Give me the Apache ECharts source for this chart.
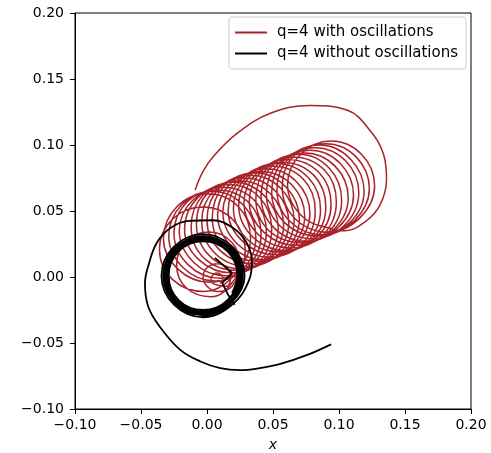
<!DOCTYPE html>
<html>
<head>
<meta charset="utf-8">
<script src="https://cdn.jsdelivr.net/npm/echarts@6/dist/echarts.min.js"></script>
<style>html,body{margin:0;padding:0;background:#fff;}#c{width:491px;height:453px;}</style>
</head>
<body>
<div id="c"></div>
<script>
// Axis ranges and tick labels
const xMin = -0.1, xMax = 0.2, xStep = 0.05;
const yMin = -0.1, yMax = 0.2, yStep = 0.05;
const xTickLabels = ['\u22120.10','\u22120.05','0.00','0.05','0.10','0.15','0.20'];
const yTickLabels = ['\u22120.10','\u22120.05','0.00','0.05','0.10','0.15','0.20'];
const seriesNames = ['q=4 with oscillations', 'q=4 without oscillations'];

// Red trajectory: the large outer arc
const redArc = [
  [-0.009,0.066],[-0.003,0.080],[0.0045,0.091],[0.023,0.109],[0.048,0.124],[0.078,0.130],
  [0.106,0.1265],[0.1235,0.111],[0.134,0.092],[0.136,0.0735],[0.131,0.0545],
  [0.120,0.042],[0.1045,0.035]
];
// Red trajectory: drifting loops (right end to left end)
const redLoops = [
  [0.096,0.036],[0.072,0.046],[0.061,0.070],[0.071,0.093],[0.094,0.103],[0.117,0.093],[0.127,0.069],[0.116,0.045],
  [0.092,0.034],[0.067,0.044],[0.057,0.068],[0.066,0.092],[0.090,0.101],[0.113,0.091],[0.123,0.067],[0.112,0.043],
  [0.088,0.032],[0.063,0.042],[0.053,0.066],[0.062,0.090],[0.086,0.100],[0.109,0.089],[0.119,0.065],[0.108,0.041],
  [0.084,0.031],[0.059,0.041],[0.049,0.064],[0.058,0.088],[0.082,0.098],[0.105,0.088],[0.115,0.064],[0.104,0.039],
  [0.080,0.029],[0.055,0.039],[0.045,0.063],[0.054,0.086],[0.078,0.096],[0.101,0.086],[0.111,0.062],[0.100,0.038],
  [0.076,0.027],[0.051,0.037],[0.041,0.061],[0.050,0.085],[0.074,0.094],[0.097,0.084],[0.107,0.060],[0.096,0.036],
  [0.072,0.026],[0.047,0.035],[0.037,0.059],[0.046,0.083],[0.070,0.093],[0.093,0.082],[0.102,0.058],[0.092,0.034],
  [0.067,0.024],[0.043,0.034],[0.032,0.057],[0.042,0.081],[0.065,0.091],[0.089,0.081],[0.098,0.057],[0.088,0.032],
  [0.063,0.022],[0.039,0.032],[0.028,0.056],[0.038,0.079],[0.061,0.089],[0.085,0.079],[0.094,0.055],[0.084,0.031],
  [0.059,0.020],[0.035,0.030],[0.024,0.054],[0.034,0.078],[0.057,0.087],[0.081,0.077],[0.090,0.053],[0.080,0.029],
  [0.055,0.019],[0.031,0.028],[0.020,0.052],[0.030,0.076],[0.053,0.086],[0.077,0.075],[0.086,0.051],[0.076,0.027],
  [0.051,0.017],[0.027,0.027],[0.016,0.050],[0.026,0.074],[0.049,0.084],[0.073,0.074],[0.082,0.050],[0.072,0.025],
  [0.047,0.015],[0.023,0.025],[0.012,0.049],[0.022,0.072],[0.045,0.082],[0.068,0.072],[0.078,0.048],[0.067,0.024],
  [0.043,0.013],[0.019,0.023],[0.008,0.047],[0.018,0.071],[0.041,0.080],[0.064,0.070],[0.074,0.046],[0.063,0.022],
  [0.039,0.012],[0.014,0.021],[0.004,0.045],[0.013,0.069],[0.037,0.079],[0.060,0.068],[0.070,0.044],[0.059,0.020],
  [0.035,0.010],[0.010,0.020],[0.000,0.043],[0.009,0.067],[0.033,0.077],[0.056,0.067],[0.066,0.043],[0.055,0.018],
  [0.031,0.008],[0.006,0.018],[-0.004,0.042],[0.005,0.065],[0.029,0.075],[0.052,0.065],[0.062,0.041],[0.051,0.017],
  [0.027,0.006],[0.002,0.016],[-0.008,0.040],[0.001,0.064],[0.025,0.073],[0.048,0.063],[0.058,0.039],[0.047,0.015],
  [0.023,0.005],[-0.002,0.014],[-0.012,0.038],[-0.003,0.062],[0.021,0.072],[0.044,0.061],[0.054,0.037],[0.043,0.013],
  [0.019,0.003],[-0.006,0.013],[-0.017,0.036],[-0.007,0.060],[0.017,0.070],[0.040,0.060],[0.049,0.036],[0.039,0.011],
  [0.014,0.001],[-0.010,0.011],[-0.021,0.035],[-0.011,0.058],[0.012,0.068],[0.036,0.058],[0.045,0.034],[0.035,0.010],
  [0.010,-0.001],[-0.014,0.009],[-0.025,0.033],[-0.015,0.057],[0.008,0.066],[0.032,0.056],[0.041,0.032],[0.031,0.008],
  [0.006,-0.003],[-0.018,0.007],[-0.029,0.031],[-0.019,0.055],[0.004,0.065],[0.028,0.054],[0.037,0.030],[0.027,0.006],
  [0.002,-0.004],[-0.022,0.006],[-0.033,0.029],[-0.023,0.053],[0.000,0.063],[0.024,0.053],[0.033,0.029],[0.023,0.004]
];
// Red trajectory: final shrinking loops near the centre
const redTail = [
  [-0.002,-0.011],[-0.026,-0.002],[-0.036,0.021],[-0.026,0.044],[-0.003,0.053],[0.020,0.043],[0.029,0.020],[0.020,-0.003],
  [0.003,-0.015],[-0.016,-0.008],[-0.023,0.009],[-0.016,0.027],[0.002,0.034],[0.019,0.026],[0.025,0.009],[0.019,-0.007],
  [0.008,-0.011],[0.000,-0.007],[-0.003,0.000],[0.000,0.007],[0.008,0.010],[0.015,0.007],[0.018,0.000],[0.015,-0.007],
  [0.0075,-0.006],[0.004,-0.0045],[0.003,-0.0015],[0.0045,0.0015],[0.0075,0.003],[0.011,0.0015],[0.012,-0.0015],[0.010,-0.005]
];

// Black trajectory: outer inspiral
const blackOuter = [
  [0.094,-0.051],[0.076,-0.059],[0.055,-0.066],[0.040,-0.069],[0.025,-0.0705],[0.010,-0.069],[-0.005,-0.064],
  [-0.0205,-0.055],[-0.0355,-0.038],[-0.0445,-0.0225],[-0.047,-0.005],[-0.044,0.010],[-0.038,0.026],
  [-0.028,0.037],[-0.014,0.0425],[0.004,0.043],[0.020,0.037],[0.030,0.026],[0.034,0.012],[0.032,-0.002]
];
// Black trajectory: tight ring of orbits
const blackRing = [
  [0.019,-0.021],[-0.003,-0.0305],[-0.025,-0.021],[-0.0345,0.001],[-0.025,0.023],[-0.003,0.0325],[0.019,0.023],[0.0285,0.001],
  [0.018,-0.020],[-0.003,-0.029],[-0.024,-0.020],[-0.033,0.001],[-0.024,0.022],[-0.003,0.031],[0.018,0.022],[0.027,0.001],
  [0.0175,-0.0195],[-0.003,-0.028],[-0.0235,-0.0195],[-0.032,0.001],[-0.0235,0.0215],[-0.003,0.030],[0.0175,0.0215],[0.026,0.001],
  [0.017,-0.019],[-0.003,-0.027],[-0.023,-0.019],[-0.031,0.001],[-0.023,0.021],[-0.003,0.029],[0.017,0.021],[0.025,0.001],
  [0.016,-0.018],[-0.003,-0.026],[-0.022,-0.018],[-0.030,0.001],[-0.022,0.020],[-0.003,0.028],[0.016,0.020],[0.024,0.001],
  [0.0155,-0.0175],[-0.003,-0.025],[-0.0215,-0.0175],[-0.029,0.001],[-0.0215,0.0195],[-0.003,0.027],[0.0155,0.0195],[0.023,0.001],
  [0.019,-0.012]
];
// Black trajectory: final plunge
const blackPlunge = [
  [0.021,-0.021],[0.016,-0.0135],[0.0115,-0.0045],[0.019,0.003],[0.006,0.0145]
];

const redColor = '#a8232b';
const blackColor = '#000000';
const font = 'DejaVu Sans';

const chart = echarts.init(document.getElementById('c'), null, {renderer: 'canvas'});
function tickFmt(labels, min, step) {
  return function (v) { const i = Math.round((v - min) / step); return labels[i] !== undefined ? labels[i] : ''; };
}
chart.setOption({
  animation: false,
  backgroundColor: '#ffffff',
  grid: {left: 75, top: 13, width: 396, height: 396, show: true, borderColor: '#000', borderWidth: 1, backgroundColor: 'transparent', containLabel: false, outerBoundsMode: 'none'},
  legend: {
    data: seriesNames.map(function (n) { return {name: n, icon: 'rect'}; }),
    orient: 'vertical',
    left: 229, top: 17,
    padding: [7, 8, 7, 6],
    itemWidth: 32, itemHeight: 2, itemGap: 4,
    backgroundColor: 'rgba(255,255,255,0.8)',
    borderColor: '#cccccc', borderWidth: 1, borderRadius: 3,
    textStyle: {fontFamily: font, fontSize: 15, color: '#000', padding: [0, 0, 0, 5], lineHeight: 17}
  },
  xAxis: {
    type: 'value', min: xMin, max: xMax, interval: xStep,
    name: 'x', nameLocation: 'middle', nameGap: 29,
    nameTextStyle: {fontFamily: font, fontSize: 14, fontStyle: 'italic', color: '#000'},
    axisLine: {show: true, onZero: false, lineStyle: {color: '#000', width: 1}},
    axisTick: {show: true, inside: false, length: 5, lineStyle: {color: '#000', width: 1}},
    axisLabel: {fontFamily: font, fontSize: 14, color: '#000', margin: 9, formatter: tickFmt(xTickLabels, xMin, xStep)},
    splitLine: {show: false}
  },
  yAxis: {
    type: 'value', min: yMin, max: yMax, interval: yStep,
    axisLine: {show: true, onZero: false, lineStyle: {color: '#000', width: 1}},
    axisTick: {show: true, inside: false, length: 5, lineStyle: {color: '#000', width: 1}},
    axisLabel: {fontFamily: font, fontSize: 14, color: '#000', margin: 11, formatter: tickFmt(yTickLabels, yMin, yStep)},
    splitLine: {show: false}
  },
  series: [
    {name: seriesNames[0], type: 'line', data: redArc.concat(redLoops, redTail), smooth: 0.4, showSymbol: false, symbol: 'none',
     lineStyle: {color: redColor, width: 1.5}, itemStyle: {color: redColor}, z: 2},
    {name: seriesNames[1], type: 'line', data: blackOuter.concat(blackRing), smooth: 0.4, showSymbol: false, symbol: 'none',
     lineStyle: {color: blackColor, width: 1.8}, itemStyle: {color: blackColor}, z: 3},
    {name: seriesNames[1], type: 'line', data: blackPlunge, smooth: false, showSymbol: false, symbol: 'none',
     lineStyle: {color: blackColor, width: 1.8}, itemStyle: {color: blackColor}, z: 3}
  ]
});
</script>
</body>
</html>
